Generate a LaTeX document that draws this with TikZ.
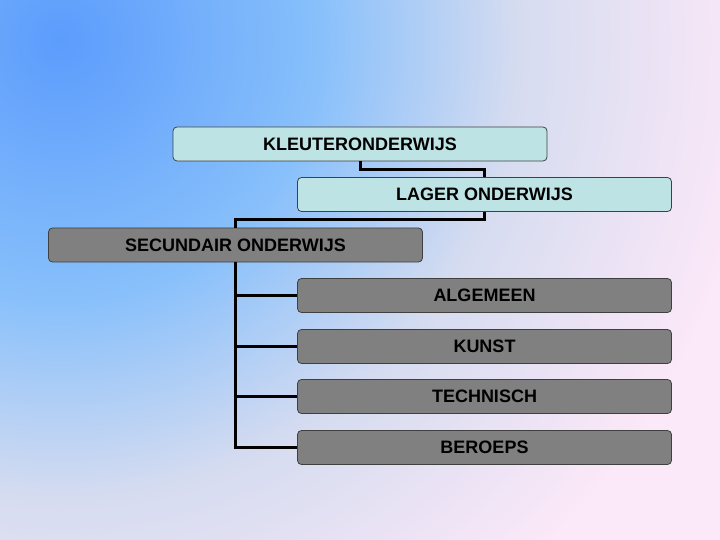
\documentclass[tikz,border=0pt]{standalone}
\usepackage{fontspec}
\setmainfont{Liberation Sans}
\usetikzlibrary{positioning}
\definecolor{bgblue}{RGB}{92,156,252}
\definecolor{bglight}{RGB}{136,192,251}
\definecolor{bglav}{RGB}{214,220,240}
\definecolor{bgpink}{RGB}{251,232,248}
\definecolor{paleteal}{RGB}{190,227,229}
\definecolor{midgray}{RGB}{128,128,128}
\pgfdeclareradialshading{slidebg}{\pgfpoint{0bp}{0bp}}{%
  color(0bp)=(bgblue); color(6.5bp)=(bglight); color(11.5bp)=(bglav);
  color(17.5bp)=(bgpink); color(50bp)=(bgpink)}

\begin{document}
\begin{tikzpicture}[
      x=1pt,y=-1pt,
      level/.style={draw=black!75,line width=0.8pt,rounded corners=4pt,
                    minimum width=374pt,minimum height=34pt,inner sep=0pt,
                    font=\fontsize{18}{20}\selectfont\bfseries},
      early/.style={level,fill=paleteal},
      later/.style={level,fill=midgray},
      conn/.style={draw=black,line width=3pt}
    ]
    % background
    \useasboundingbox (0,0) rectangle (720,540);
    \begin{scope}
      \clip (0,0) rectangle (720,540);
      \shade[shading=slidebg] (60,40) circle (1000);
    \end{scope}

    \node[early] (kleut) at (360,144) {KLEUTERONDERWIJS};
    \node[early] (lager) at (484.5,194.5) {LAGER ONDERWIJS};
    \node[later] (secu)  at (235.5,245) {SECUNDAIR ONDERWIJS};
    \node[later] (alg)   at (484.5,295.5) {ALGEMEEN};
    \node[later] (kunst) at (484.5,346.5) {KUNST};
    \node[later] (tech)  at (484.5,396.5) {TECHNISCH};
    \node[later] (ber)   at (484.5,447.5) {BEROEPS};

    \draw[conn] (kleut.south) -- ++(0,8) -| (lager.north);
    \draw[conn] (lager.south) -- ++(0,8) -| (secu.north);
    \foreach \kid in {alg,kunst,tech,ber}
      \draw[conn] (secu.south) |- (\kid.west);
  \end{tikzpicture}
\end{document}
